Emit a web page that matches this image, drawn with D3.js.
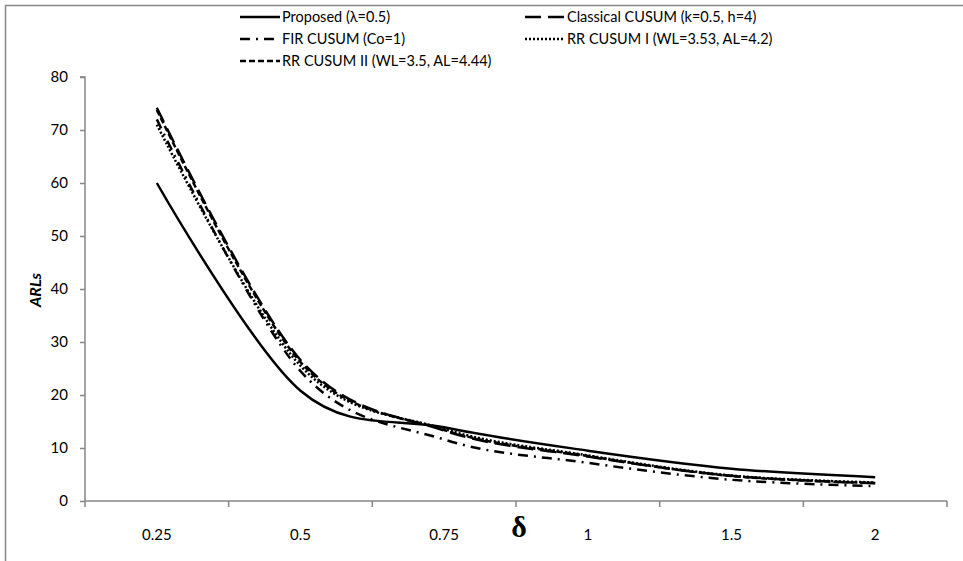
<!DOCTYPE html>
<html>
<head>
<meta charset="utf-8">
<script src="https://cdn.jsdelivr.net/npm/d3@7"></script>
<style>
html,body{margin:0;padding:0;background:#fff;overflow:hidden;}
svg{display:block;}
text{font-family:Lato,"Open Sans",sans-serif;}
</style>
</head>
<body>
<svg id="chart" width="963" height="561"></svg>
<script>
const categories = ["0.25","0.5","0.75","1","1.5","2"];
const yTicks = [0,10,20,30,40,50,60,70,80];
const proposed = [60.0, 20.8, 13.9, 9.5, 6.1, 4.5];
const classical = [74.2, 26.6, 13.3, 8.38, 4.75, 3.34];
const fir = [72.0, 24.5, 11.6, 7.2, 4.0, 2.8];
const rr1 = [71.0, 25.5, 13.6, 8.6, 4.8, 3.5];
const rr2 = [73.8, 26.2, 13.4, 8.5, 4.7, 3.4];
const seriesNames = ["Proposed (λ=0.5)","Classical CUSUM (k=0.5, h=4)","FIR CUSUM (Co=1)","RR CUSUM I (WL=3.53, AL=4.2)","RR CUSUM II (WL=3.5, AL=4.44)"];

const dashes = {
  proposed: null,
  classical: "16,7",
  fir: "10,6,2,6",
  rr1: "2,2",
  rr2: "6,3"
};
const series = [
  {name: seriesNames[0], values: proposed, dash: dashes.proposed},
  {name: seriesNames[1], values: classical, dash: dashes.classical},
  {name: seriesNames[2], values: fir, dash: dashes.fir},
  {name: seriesNames[3], values: rr1, dash: dashes.rr1},
  {name: seriesNames[4], values: rr2, dash: dashes.rr2}
];

const svg = d3.select("#chart");
svg.append("rect").attr("x",5.5).attr("y",5.5).attr("width",1000).attr("height",1000)
  .attr("fill","none").attr("stroke","#868686").attr("stroke-width",1.5);

const pLeft = 85, pRight = 947, pTop = 77, pBottom = 501;
const x = d3.scaleBand().domain(categories).range([pLeft,pRight]).paddingInner(0).paddingOuter(0);
const y = d3.scaleLinear().domain([0,80]).range([pBottom,pTop]);

const yAxis = d3.axisLeft(y).tickValues(yTicks).tickSize(5).tickPadding(12).tickFormat(d3.format("d"));
const gy = svg.append("g").attr("transform",`translate(${pLeft},0)`).call(yAxis);
gy.select(".domain").attr("stroke","#868686").attr("stroke-width",1.5).attr("d",`M-5,${pTop}H0V${pBottom}`);
gy.selectAll(".tick line").attr("stroke","#868686").attr("stroke-width",1.5);
gy.selectAll(".tick text").attr("font-size",15).attr("fill","#000").style("font-family","Lato,sans-serif");

const xAxis = d3.axisBottom(x).tickSize(0).tickPadding(28);
const gx = svg.append("g").attr("transform",`translate(0,${pBottom})`).call(xAxis);
gx.select(".domain").attr("stroke","#868686").attr("stroke-width",1.5).attr("d",`M${pLeft},0H${pRight}`);
gx.selectAll(".tick text").attr("font-size",15).attr("fill","#000").style("font-family","Lato,sans-serif");
const bounds = categories.map(c => x(c)).concat([pRight]);
gx.selectAll(".btick").data(bounds).enter().append("line")
  .attr("x1",d=>d).attr("x2",d=>d).attr("y1",0).attr("y2",6)
  .attr("stroke","#868686").attr("stroke-width",1.5);

svg.append("text").attr("x",519).attr("y",537).attr("text-anchor","middle")
  .style("font-family","'Liberation Serif','DejaVu Serif',serif").attr("font-weight","bold").attr("font-size",30).text("δ");
svg.append("text").attr("transform","translate(41,290) rotate(-90)").attr("text-anchor","middle")
  .attr("font-weight","bold").attr("font-style","italic").attr("font-size",16).text("ARLs");

const line = d3.line().x((d,i)=>x(categories[i]) + x.bandwidth()/2).y(d=>y(d))
  .curve(d3.curveCardinal.tension(0));
svg.append("g").selectAll("path").data(series).enter().append("path")
  .attr("d",d=>line(d.values)).attr("fill","none").attr("stroke","#000")
  .attr("stroke-width",2.5).attr("stroke-dasharray",d=>d.dash);

const legendPos = [[240,17],[525,17],[240,39],[525,39],[240,61]];
const lg = svg.append("g").selectAll("g").data(series).enter().append("g")
  .attr("transform",(d,i)=>`translate(${legendPos[i][0]},${legendPos[i][1]})`);
lg.append("line").attr("x1",0).attr("x2",40).attr("y1",0).attr("y2",0)
  .attr("stroke","#000").attr("stroke-width",2.5).attr("stroke-dasharray",d=>d.dash);
lg.append("text").attr("x",42).attr("y",0).attr("dy","0.35em").attr("font-size",14.5).text(d=>d.name);
</script>
</body>
</html>
